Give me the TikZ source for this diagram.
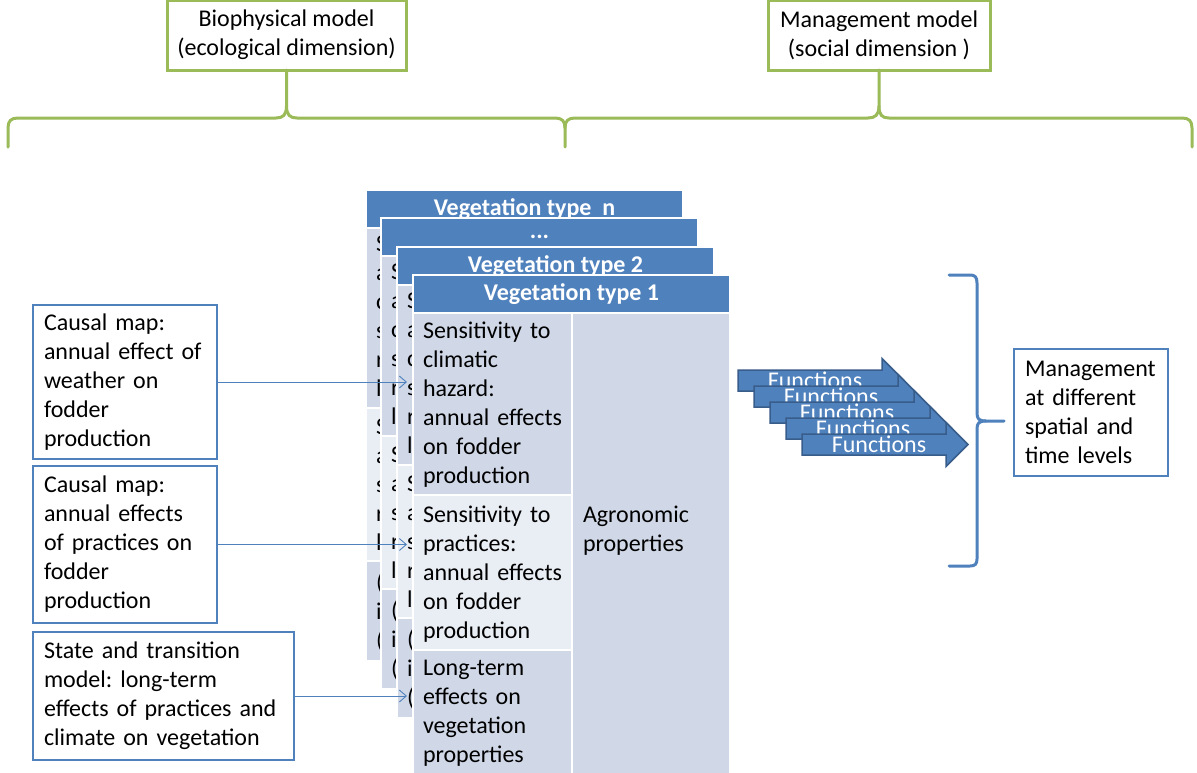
\documentclass[tikz,border=0pt]{standalone}
\usepackage{fontspec}
\setmainfont{Carlito}
\frenchspacing
\usetikzlibrary{arrows.meta}
\definecolor{hdrblue}{HTML}{4F81BD}
\definecolor{edgeblue}{HTML}{385D8A}
\definecolor{celldark}{HTML}{D0D8E8}
\definecolor{celllight}{HTML}{E9EDF4}
\definecolor{leafgreen}{HTML}{9BBB59}

% one card of the stack: name, left x, top y, header text
\newcommand{\stackcard}[4]{%
  \node[hdr] (#1-head) at (#2,#3) {#4};
  \node[darkcell, minimum width=159pt, minimum height=180pt] (#1-a) at (#2,#3+38) {};
  \node[lightcell, minimum width=159pt, minimum height=153pt] (#1-b) at (#2,#3+218) {};
  \node[darkcell, minimum width=159pt, minimum height=100pt] (#1-c) at (#2,#3+371) {};
  \node[darkcell, minimum width=158pt, minimum height=433pt] (#1-d) at (#2+159,#3+38) {};
  \node[celltext=40pt] (#1-ta) at (#2+10,#3+61) {S\\a\\c\\s\\r\\l};
  \node[celltext=40pt] (#1-tb) at (#2+10,#3+244) {S\\a\\s\\r\\l};
  \node[celltext=40pt] (#1-tc) at (#2+10,#3+400) {(\\i\\(};
}

\begin{document}
\begin{tikzpicture}[x=1pt,y=-1pt,
  every node/.style={inner sep=0pt, outer sep=0pt},
  topbox/.style={draw=leafgreen, line width=3pt, fill=white, minimum height=70pt,
    align=center, font=\fontsize{24}{29}\selectfont},
  greenbrace/.style={draw=leafgreen, line width=3pt, line cap=round, line join=round},
  bluebrace/.style={draw=hdrblue, line width=3pt, line cap=round, line join=round},
  hdr/.style={fill=hdrblue, draw=white, line width=1.2pt, minimum width=317pt,
    minimum height=38pt, text=white, font=\bfseries\fontsize{24}{29}\selectfont,
    anchor=north west},
  darkcell/.style={fill=celldark, draw=white, line width=1.2pt, anchor=north west},
  lightcell/.style={fill=celllight, draw=white, line width=1.2pt, anchor=north west},
  celltext/.style={font=\fontsize{24}{29}\selectfont, text width=#1, align=left,
    anchor=base west},
  celltext/.default=150pt,
  sidebox/.style={draw=hdrblue, line width=2.5pt, fill=white, anchor=north west,
    align=left, inner xsep=11pt, font=\fontsize{24}{29}\selectfont},
  link/.style={draw=hdrblue, line width=0.9pt, -{Straight Barb[length=7pt,width=12pt]}},
  fnarrow/.style={fill=hdrblue, draw=edgeblue, line width=1.5pt, line join=miter},
  fntext/.style={text=white, font=\fontsize{24}{29}\selectfont},
]
\useasboundingbox[fill=white] (0,0) rectangle (1197,772);

% the two model headings and their braces
\node[topbox, minimum width=239pt] (bio) at (286.5,35) {Biophysical model\\(ecological dimension)};
\node[topbox, minimum width=222pt] (mgm) at (879,35) {Management model\\(social dimension )};

\draw[greenbrace] (8,147) -- (8,128) .. controls (8,121) and (11,118) .. (18,118)
  -- (276,118) .. controls (283,118) and (286.5,115) .. (286.5,106) -- (bio.south);
\draw[greenbrace] (286.5,106) .. controls (286.5,115) and (290,118) .. (297,118)
  -- (555,118) .. controls (562,118) and (565,121) .. (565,128) -- (565,147);
\draw[greenbrace] (565,128) .. controls (565,121) and (568,118) .. (575,118)
  -- (868,118) .. controls (875,118) and (879,115) .. (879,106) -- (mgm.south);
\draw[greenbrace] (879,106) .. controls (879,115) and (882,118) .. (889,118)
  -- (1182,118) .. controls (1189,118) and (1192,121) .. (1192,128) -- (1192,147);

% stack of vegetation-type cards, back to front
\stackcard{vn}{366}{190}{Vegetation type\ \ n}
\stackcard{vd}{381}{218}{...}
\stackcard{v2}{397}{247}{Vegetation type 2}

\node[hdr] (v1-head) at (413,275) {Vegetation type 1};
\node[darkcell, minimum width=159pt, minimum height=182pt] (v1-a) at (413,313) {};
\node[lightcell, minimum width=159pt, minimum height=155pt] (v1-b) at (413,495) {};
\node[darkcell, minimum width=159pt, minimum height=135pt] (v1-c) at (413,650) {};
\node[darkcell, minimum width=158pt, minimum height=472pt] (v1-d) at (572,313) {};
\node[celltext] (v1-ta) at (423,338) {Sensitivity to\\climatic\\hazard:\\annual effects\\on fodder\\production};
\node[celltext] (v1-tb) at (423,522) {Sensitivity to\\practices:\\annual effects\\on fodder\\production};
\node[celltext] (v1-tc) at (423,675) {Long-term\\effects on\\vegetation\\properties};
\node[celltext] (v1-td) at (583,522) {Agronomic\\properties};

% models feeding the cards
\node[sidebox, text width=162pt, minimum height=154pt] (c1) at (33,305)
  {Causal map:\\annual effect of\\weather on\\fodder\\production};
\node[sidebox, text width=162pt, minimum height=157pt] (c2) at (33,466)
  {Causal map:\\annual effects\\of practices on\\fodder\\production};
\node[sidebox, text width=239pt, minimum height=128pt] (c3) at (33,632)
  {State and transition\\model: long-term\\effects of practices and\\climate on vegetation};
\coordinate (e1) at (407,382);
\coordinate (e2) at (407,544.5);
\coordinate (e3) at (407,696);
\draw[link] (c1.east) -- (e1);
\draw[link] (c2.east) -- (e2);
\draw[link] (c3.east) -- (e3);

% overlapping "Functions" arrows
\foreach \i in {0,...,4} {
  \pgfmathsetmacro{\xa}{738+16*\i}
  \pgfmathsetmacro{\xb}{882+16*\i}
  \pgfmathsetmacro{\xt}{904+16*\i}
  \pgfmathsetmacro{\yc}{380.5+16*\i}
  \draw[fnarrow] (\xa,\yc-10.5) -- (\xb,\yc-10.5) -- (\xb,\yc-22) -- (\xt,\yc)
    -- (\xb,\yc+22) -- (\xb,\yc+10.5) -- (\xa,\yc+10.5) -- cycle;
  \node[fntext] (fn\i) at (\xa+77,\yc) {Functions};
}

% right brace and management levels
\draw[bluebrace] (949,275) -- (970,275) .. controls (975,275) and (977,277) .. (977,283)
  -- (977,413) .. controls (977,419) and (979,421) .. (986,421) -- (1004,421);
\draw[bluebrace] (986,421) .. controls (979,421) and (977,423) .. (977,429)
  -- (977,559) .. controls (977,564) and (975,566) .. (970,566) -- (949,566);
\node[sidebox, text width=132pt, minimum height=127pt] (mg) at (1014,349)
  {Management\\at different\\spatial and\\time levels};
\end{tikzpicture}
\end{document}
